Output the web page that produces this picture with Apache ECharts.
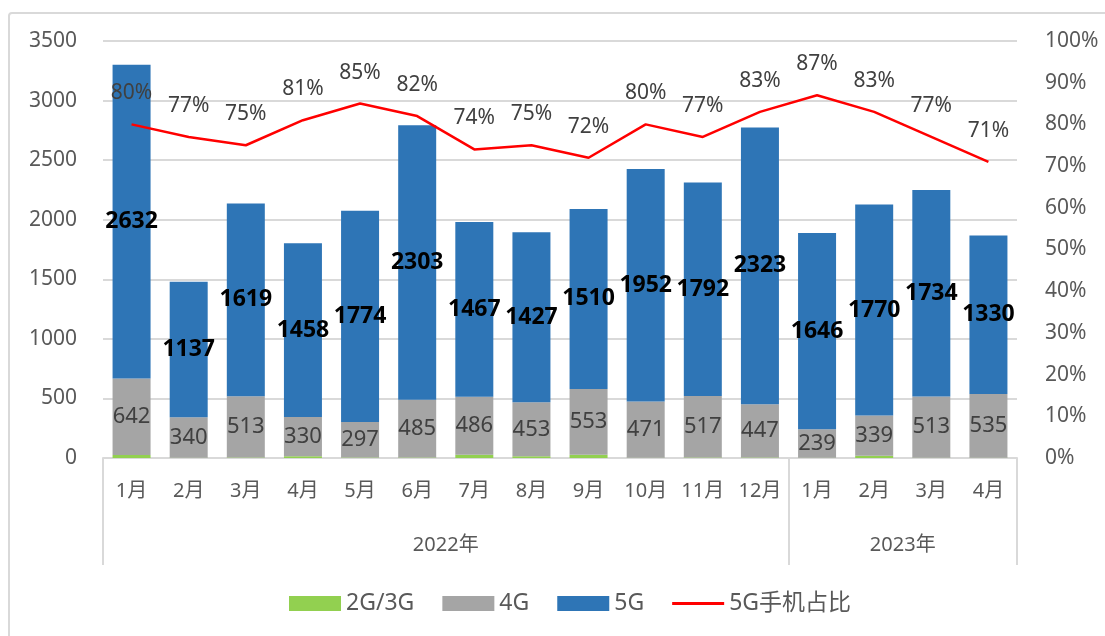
<!DOCTYPE html>
<html>
<head>
<meta charset="utf-8">
<script src="https://cdn.jsdelivr.net/npm/echarts@6/dist/echarts.min.js"></script>
<style>
  html, body { margin: 0; padding: 0; background: #fff; }
  #wrap { position: relative; width: 1105px; height: 636px; overflow: hidden; }
  #frame { position: absolute; left: 8px; top: 12px; width: 1120px; height: 660px; border: 2px solid #d9d9d9; border-radius: 4px; box-sizing: border-box; }
  #myChart { position: absolute; left: 0; top: 0; width: 1105px; height: 636px; }
</style>
</head>
<body>
<div id="wrap">
  <div id="frame"></div>
  <div id="myChart"></div>
</div>
<script>
const months = ['1月', '2月', '3月', '4月', '5月', '6月', '7月', '8月', '9月', '10月', '11月', '12月', '1月', '2月', '3月', '4月']
const years = ['2022年', '2023年']
const yearSplit = [0, 12, 16]
const data2g3g = [26, 3, 5, 14, 5, 4, 28, 14, 27, 3, 4, 5, 3, 18, 3, 3]
const data4g = [642, 340, 513, 330, 297, 485, 486, 453, 553, 471, 517, 447, 239, 339, 513, 535]
const data5g = [2632, 1137, 1619, 1458, 1774, 2303, 1467, 1427, 1510, 1952, 1792, 2323, 1646, 1770, 1734, 1330]
const share5g = [80, 77, 75, 81, 85, 82, 74, 75, 72, 80, 77, 83, 87, 83, 77, 71]

const font = "'Noto Sans', 'Noto Sans CJK SC', sans-serif"
const myChart = echarts.init(document.getElementById('myChart'))

const option = {
  animation: false,
  textStyle: { fontFamily: font },
  color: ['#92D050', '#A5A5A5', '#2E75B6', '#FF0000'],
  grid: { top: 41, left: 103, right: 88, bottom: 178 },
  legend: {
    bottom: 16,
    left: 284,
    itemWidth: 52,
    itemHeight: 15,
    itemGap: 28,
    textStyle: { fontSize: 23, color: '#595959', fontFamily: font },
    data: [
      { name: '2G/3G', icon: 'rect' },
      { name: '4G', icon: 'rect' },
      { name: '5G', icon: 'rect' },
      { name: '5G手机占比', icon: 'path://M0,0 L52,0 L52,3 L0,3 Z', itemStyle: { opacity: 1, color: '#FF0000' } }
    ]
  },
  xAxis: [
    {
      type: 'category',
      data: months,
      axisLine: { lineStyle: { color: '#d9d9d9', width: 2 } },
      axisTick: { show: false },
      axisLabel: { color: '#595959', fontSize: 20, margin: 23, interval: 0 }
    },
    {
      type: 'value',
      min: 0,
      max: 16,
      position: 'bottom',
      axisLine: { show: false },
      splitLine: { show: false },
      axisTick: {
        show: true,
        customValues: yearSplit,
        length: 107,
        lineStyle: { color: '#d9d9d9', width: 2 }
      },
      axisLabel: {
        customValues: [6, 14],
        margin: 77,
        color: '#595959',
        fontSize: 20,
        formatter: function(v) { return v === 6 ? years[0] : years[1] }
      }
    }
  ],
  yAxis: [
    {
      type: 'value',
      min: 0,
      max: 3500,
      interval: 500,
      axisLine: { show: false },
      axisTick: { show: false },
      splitLine: { lineStyle: { color: '#d9d9d9', width: 2 } },
      axisLabel: { color: '#595959', fontSize: 21, margin: 26, formatter: function(v) { return String(v) } }
    },
    {
      type: 'value',
      min: 0,
      max: 100,
      interval: 10,
      axisLine: { show: false },
      axisTick: { show: false },
      splitLine: { show: false },
      axisLabel: { color: '#595959', fontSize: 21, margin: 28, formatter: '{value}%' }
    }
  ],
  series: [
    {
      name: '2G/3G',
      type: 'bar',
      stack: 'total',
      barWidth: 38,
      data: data2g3g
    },
    {
      name: '4G',
      type: 'bar',
      stack: 'total',
      barWidth: 38,
      label: { show: true, position: 'inside', color: '#404040', fontSize: 22 },
      data: data4g
    },
    {
      name: '5G',
      type: 'bar',
      stack: 'total',
      barWidth: 38,
      label: { show: true, position: 'inside', color: '#000', fontSize: 23, fontWeight: 'bold' },
      data: data5g
    },
    {
      name: '5G手机占比',
      type: 'line',
      yAxisIndex: 1,
      symbol: 'circle',
      symbolSize: 1,
      itemStyle: { opacity: 0, color: '#FF0000' },
      lineStyle: { width: 2.5, color: '#FF0000' },
      label: { show: true, position: 'top', distance: 20, color: '#404040', fontSize: 21, formatter: '{c}%', opacity: 1 },
      data: share5g
    }
  ]
}
myChart.setOption(option)
window.addEventListener('resize', function() {
  myChart.resize()
})
</script>
</body>
</html>
